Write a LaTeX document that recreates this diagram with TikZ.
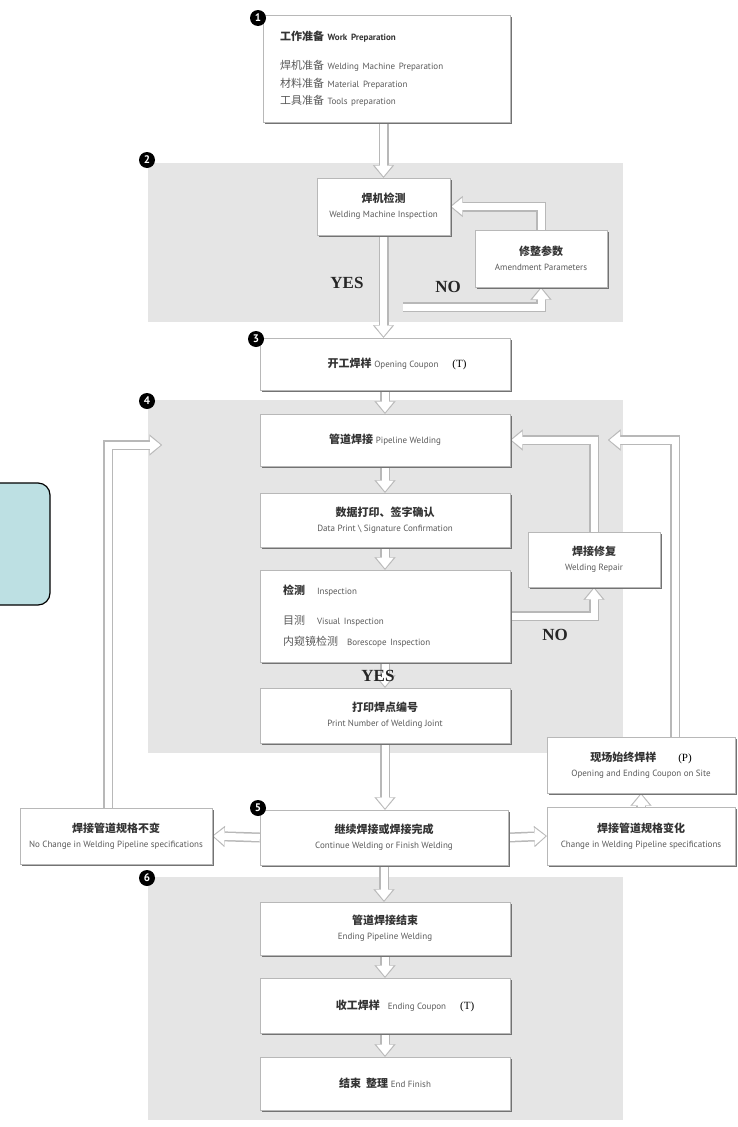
\documentclass[tikz,border=0pt]{standalone}
\usepackage{fontspec}
\setmainfont{Liberation Serif}
\newfontfamily\cjk{Noto Sans CJK SC}
\newfontfamily\lab{PT Sans}
\usetikzlibrary{arrows.meta,shadows}

\definecolor{regiongray}{HTML}{E5E5E5}
\definecolor{edgegray}{HTML}{B8B8B8}
\definecolor{txtgray}{HTML}{5A5A5A}
\definecolor{notecyan}{HTML}{BDE0E3}

\newcommand\zh[1]{{\cjk\bfseries\color{black!80}#1}}
\newcommand\zhl[1]{{\cjk\color{txtgray}#1}}
\newcommand\en[1]{{\lab\fontsize{9}{10.5}\selectfont\color{txtgray}#1}}

\pgfdeclarelayer{back}
\pgfdeclarelayer{mid}
\pgfsetlayers{back,mid,main}

\begin{document}
\begin{tikzpicture}[x=1pt,y=-1pt,
    box/.style={rectangle, draw=edgegray, fill=white, align=center, font=\fontsize{11}{14}\selectfont,
      drop shadow={shadow xshift=1.5pt, shadow yshift=-2pt, fill=black!55, opacity=1}},
    region/.style={fill=regiongray},
    badge/.style={circle, fill=black, text=white, inner sep=0pt, minimum size=16pt, font=\lab\bfseries\fontsize{11}{11}\selectfont},
    answer/.style={font=\bfseries\fontsize{17}{17}\selectfont, text=black!85},
    notebox/.style={rectangle, rounded corners=12pt, draw=black, line width=1.2pt, fill=notecyan},
    hollow/.style={draw=white, line width=7pt, shorten >=1.5pt, -{Triangle[length=10.5pt,width=17pt,line width=0.1pt]},
      preaction={draw=edgegray, line width=10pt, shorten >=0pt, -{Triangle[length=12.5pt,width=21pt,line width=0.1pt]}}}]

    \useasboundingbox (0,0) rectangle (737,1127);

    % stages
    \begin{pgfonlayer}{back}
        \fill[region] (148,163) rectangle (623,322);
        \fill[region] (148,400) rectangle (623,753);
        \fill[region] (148,877) rectangle (623,1120);
    \end{pgfonlayer}

    \node (note) at (15,544) [notebox, minimum width=70pt, minimum height=122pt] {};

    \node (work) at (386.5,68.5) [box, minimum width=247pt, minimum height=107pt, text width=213pt, align=left, font=\fontsize{11}{17.5}\selectfont]
        {\zh{工作准备}\ {\lab\bfseries\fontsize{9}{10.5}\selectfont\color{black!80}Work Preparation}\\[12pt]
         \zhl{焊机准备}\ \en{Welding Machine Preparation}\\
         \zhl{材料准备}\ \en{Material Preparation}\\
         \zhl{工具准备}\ \en{Tools preparation}};

    \node (wmi) at (383.5,206.5) [box, minimum width=133pt, minimum height=57pt] {\zh{焊机检测}\\[1pt]\en{Welding Machine Inspection}};
    \node (amend) at (541,258.5) [box, minimum width=132pt, minimum height=57pt] {\zh{修整参数}\\[1pt]\en{Amendment Parameters}};
    \node (open) at (385,364) [box, minimum width=250pt, minimum height=52pt] {\hspace*{24pt}\zh{开工焊样}\ \en{Opening Coupon}\hspace{14pt}(T)};

    \node (pipe) at (385,440) [box, minimum width=250pt, minimum height=52pt] {\zh{管道焊接}\ \en{Pipeline Welding}};
    \node (data) at (385,520) [box, minimum width=250pt, minimum height=54pt] {\zh{数据打印、签字确认}\\[1pt]\en{Data Print \textbackslash\ Signature Confirmation}};
    \node (insp) at (385,616) [box, minimum width=250pt, minimum height=92pt, text width=204pt, align=left, font=\fontsize{11}{21}\selectfont]
        {\zh{检测}\hspace{12pt}\en{Inspection}\\[9pt]
         \zhl{目测}\hspace{12pt}\en{Visual Inspection}\\
         \zhl{内窥镜检测}\hspace{9pt}\en{Borescope Inspection}};
    \node (print) at (385,715.5) [box, minimum width=250pt, minimum height=55pt] {\zh{打印焊点编号}\\[1pt]\en{Print Number of Welding Joint}};
    \node (repair) at (594,559.5) [box, minimum width=132pt, minimum height=55pt] {\zh{焊接修复}\\[1pt]\en{Welding Repair}};

    \node (cont) at (384,837.5) [box, minimum width=248pt, minimum height=55pt] {\zh{继续焊接或焊接完成}\\[1pt]\en{Continue Welding or Finish Welding}};
    \node (nochange) at (116,836) [box, minimum width=192pt, minimum height=56pt] {\zh{焊接管道规格不变}\\[1pt]\en{No Change in Welding Pipeline specifications}};
    \node (change) at (641,836) [box, minimum width=188pt, minimum height=58pt] {\zh{焊接管道规格变化}\\[1pt]\en{Change in Welding Pipeline specifications}};
    \node (site) at (641,765) [box, minimum width=188pt, minimum height=56pt] {\zh{现场始终焊样}\hspace{22pt}(P)\\[1pt]\en{Opening and Ending Coupon on Site}};

    \node (endpipe) at (385,928.5) [box, minimum width=250pt, minimum height=53pt] {\zh{管道焊接结束}\\[1pt]\en{Ending Pipeline Welding}};
    \node (endcoupon) at (385,1005.5) [box, minimum width=250pt, minimum height=55pt] {\hspace*{40pt}\zh{收工焊样}\hspace{8pt}\en{Ending Coupon}\hspace{14pt}(T)};
    \node (finish) at (385,1083.5) [box, minimum width=250pt, minimum height=53pt] {\zh{结束}\hspace{5pt}\zh{整理}\ \en{End Finish}};

    \coordinate (nostart) at (403,307);
    \coordinate (r4in) at (608,440);
    \coordinate (l4in) at (162,445);

    % flow arrows
    \begin{pgfonlayer}{mid}
        \draw[hollow] (wmi.north |- work.south) -- (wmi.north);
        \draw[hollow] (wmi.south) -- (wmi.south |- open.north);
        \draw[hollow] (amend.north) |- (wmi.east);
        \draw[hollow] (nostart) -| (amend.south);
        \draw[hollow] (open.south) -- (pipe.north);
        \draw[hollow] (pipe.south) -- (data.north);
        \draw[hollow] (data.south) -- (insp.north);
        \draw[hollow] (insp.south) -- (print.north);
        \draw[hollow] (insp.east) -| (repair.south);
        \draw[hollow] (repair.north) |- (pipe.east);
        \draw[hollow] (print.south) -- (print.south |- cont.north);
        \draw[hollow] (cont.west) -- (nochange.east);
        \draw[hollow] (cont.east) -- (change.west);
        \draw[hollow] (change.north) -- (site.south);
        \draw[hollow] ([xshift=34pt]site.north) |- (r4in);
        \draw[hollow] ([xshift=-8pt]nochange.north) |- (l4in);
        \draw[hollow] (cont.south) -- (cont.south |- endpipe.north);
        \draw[hollow] (endpipe.south) -- (endcoupon.north);
        \draw[hollow] (endcoupon.south) -- (finish.north);
    \end{pgfonlayer}

    \node (yes1) at (347,283) [answer] {YES};
    \node (no1) at (448,287) [answer] {NO};
    \node (yes2) at (378,676) [answer] {YES};
    \node (no2) at (555,635) [answer] {NO};

    \node (b1) at (258,18) [badge] {1};
    \node (b2) at (147,160) [badge] {2};
    \node (b3) at (256,339) [badge] {3};
    \node (b4) at (147,401) [badge] {4};
    \node (b5) at (258,808) [badge] {5};
    \node (b6) at (147,878) [badge] {6};
\end{tikzpicture}
\end{document}
